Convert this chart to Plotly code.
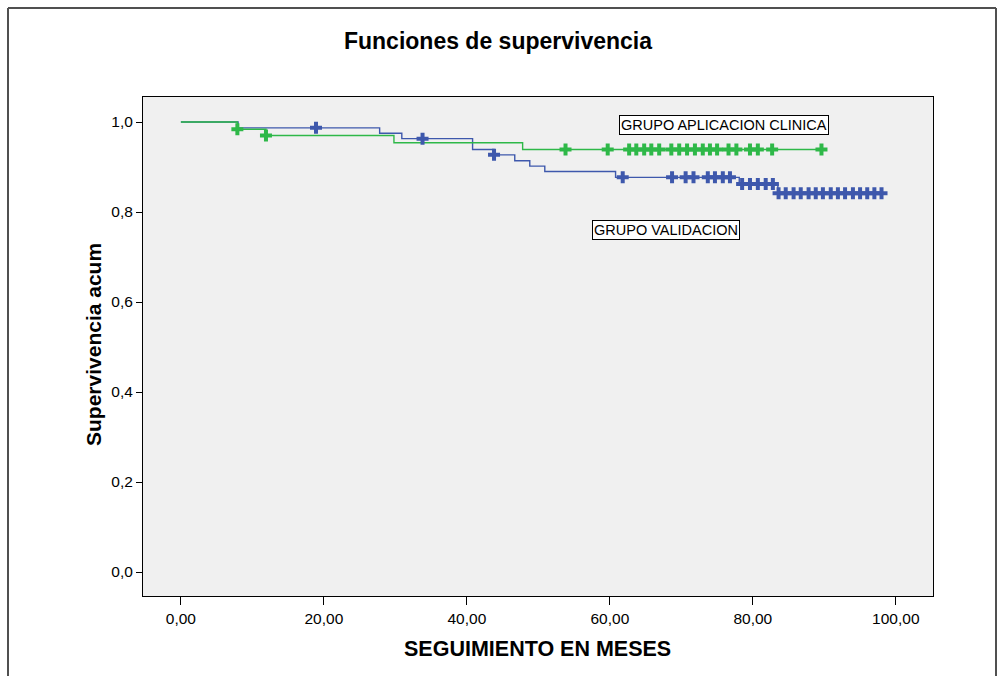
import plotly.graph_objects as go

# Kaplan-Meier survival steps (event times and survival after each event)
val_event_t = [0, 8, 27.8, 30.9, 40.8, 43.8, 46.7, 48.8, 50.9, 60.8, 78.1, 83.5, 98.0]
val_event_s = [1.0, 0.987, 0.975, 0.963, 0.939, 0.927, 0.914, 0.902, 0.890, 0.877, 0.862, 0.8415, 0.8415]

cli_event_t = [0, 7.9, 11.9, 29.8, 47.8, 89.6]
cli_event_s = [1.0, 0.984, 0.970, 0.954, 0.939, 0.939]

# Censored observations
val_cens_t = [18.9, 33.8, 43.8,
              61.8, 68.7, 70.6, 71.7, 73.7, 74.7, 75.8, 76.8,
              78.5, 79.6, 80.7, 81.8, 82.8,
              83.6, 84.6, 85.7, 86.7, 87.8, 88.8, 89.8, 90.9, 91.9, 92.9, 94.0, 95.0, 96.0, 97.0, 98.0]
val_cens_s = [0.987, 0.963, 0.927,
              0.877, 0.877, 0.877, 0.877, 0.877, 0.877, 0.877, 0.877,
              0.862, 0.862, 0.862, 0.862, 0.862,
              0.8415, 0.8415, 0.8415, 0.8415, 0.8415, 0.8415, 0.8415, 0.8415,
              0.8415, 0.8415, 0.8415, 0.8415, 0.8415, 0.8415, 0.8415]

cli_cens_t = [7.9, 11.9, 53.8, 59.7, 62.7, 63.7, 64.8, 65.8, 66.9, 68.6, 69.7, 70.8,
              71.9, 73.0, 74.0, 75.0, 76.6, 77.7, 79.6, 80.7, 82.7, 89.6]
cli_cens_s = [0.984, 0.970] + [0.939] * 20

x_ticks = [0, 20, 40, 60, 80, 100]
y_ticks = [0.0, 0.2, 0.4, 0.6, 0.8, 1.0]

BLUE = "#3e58ac"
GREEN = "#2eb848"
FONT = "Arial, Liberation Sans, sans-serif"

fig = go.Figure()

fig.add_trace(go.Scatter(x=val_event_t, y=val_event_s, mode="lines",
                         line=dict(color=BLUE, width=1.4, shape="hv"),
                         hoverinfo="skip", showlegend=False))
fig.add_trace(go.Scatter(x=cli_event_t, y=cli_event_s, mode="lines",
                         line=dict(color=GREEN, width=1.4, shape="hv"),
                         hoverinfo="skip", showlegend=False))
fig.add_trace(go.Scatter(x=val_cens_t, y=val_cens_s, mode="markers",
                         marker=dict(symbol="cross", size=10, color=BLUE, line=dict(width=0)),
                         showlegend=False))
fig.add_trace(go.Scatter(x=cli_cens_t, y=cli_cens_s, mode="markers",
                         marker=dict(symbol="cross", size=10, color=GREEN, line=dict(width=0)),
                         showlegend=False))

axis_common = dict(showgrid=False, zeroline=False, showline=True, linecolor="black",
                   linewidth=1, mirror=True, ticks="outside", tickcolor="black",
                   tickfont=dict(family=FONT, size=15.5, color="black"))

fig.update_xaxes(range=[-5.3, 105.2], tickvals=x_ticks, tickformat=".2f",
                 ticklen=8, **axis_common)
fig.update_yaxes(range=[-0.0533, 1.0556], tickvals=y_ticks, tickformat=".1f",
                 ticklen=6, **axis_common)

# Group labels inside the plot
for text, x, y in [("GRUPO APLICACION CLINICA", 75.9, 0.9944),
                   ("GRUPO VALIDACION", 67.8, 0.761)]:
    fig.add_annotation(x=x, y=y, text=text, showarrow=False,
                       font=dict(family=FONT, size=14.5, color="black"),
                       bgcolor="white", bordercolor="black", borderwidth=1, borderpad=1)

# Axis titles
fig.add_annotation(xref="paper", yref="paper", x=(537 - 143) / 790, y=(596 - 649) / 499,
                   text="<b>SEGUIMIENTO EN MESES</b>", showarrow=False,
                   font=dict(family=FONT, size=21.5, color="black"), yanchor="middle")
fig.add_annotation(xref="paper", yref="paper", x=(93 - 143) / 790, y=(596 - 345) / 499,
                   text="<b>Supervivencia acum</b>", showarrow=False, textangle=-90,
                   font=dict(family=FONT, size=21, color="black"), xanchor="center")

# Outer frame around the chart
frame = dict(type="line", xref="paper", yref="paper", line=dict(color="#505050", width=2))
L, R, T, B = (8 - 143) / 790, (996 - 143) / 790, (596 - 8) / 499, (596 - 690) / 499
fig.add_shape(x0=L, x1=L, y0=B, y1=T, **frame)
fig.add_shape(x0=L, x1=R, y0=T, y1=T, **frame)
fig.add_shape(x0=R, x1=R, y0=B, y1=T, **frame)

fig.update_layout(
    width=1000, height=676,
    margin=dict(l=143, r=67, t=97, b=80),
    paper_bgcolor="white", plot_bgcolor="#f0f0f0",
    separators=",.",
    title=dict(text="<b>Funciones de supervivencia</b>", x=0.498, y=1 - 41 / 676,
               xanchor="center", yanchor="middle",
               font=dict(family=FONT, size=23, color="black")),
)

fig.write_html("out.html")
